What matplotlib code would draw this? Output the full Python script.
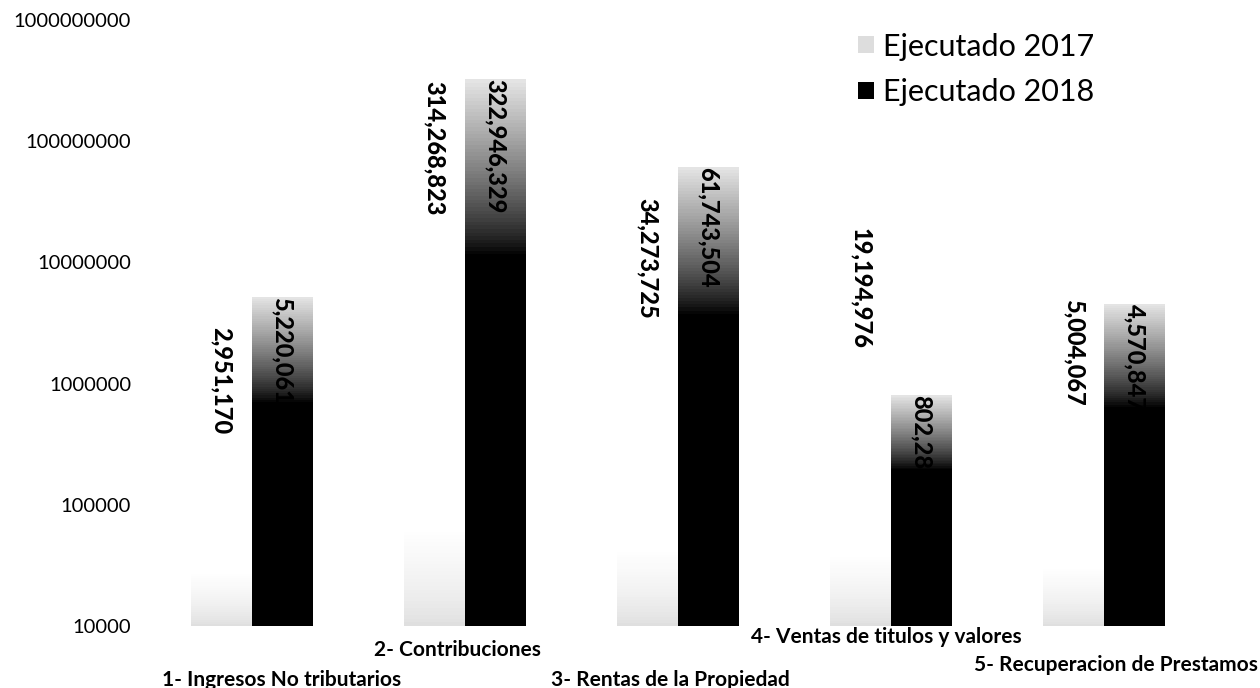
import numpy as np
import matplotlib.pyplot as plt
from matplotlib.patches import Patch
from matplotlib.transforms import blended_transform_factory, offset_copy

categorias = ['1- Ingresos No tributarios', '2- Contribuciones', '3- Rentas de la Propiedad',
              '4- Ventas de titulos y valores', '5- Recuperacion de Prestamos']
ejecutado_2017 = [2951170, 314268823, 34273725, 19194976, 5004067]
ejecutado_2018 = [5220061, 322946329, 61743504, 802287, 4570847]
ticks_y = [10000, 100000, 1000000, 10000000, 100000000, 1000000000]

# desplazamiento de cada etiqueta de categoria (pixeles x, pixeles bajo el eje)
desp_x = [30, -7, -8, -5, 12]
desp_y = [54, 24, 54, 11, 39]

plt.rcParams['font.family'] = ['Lato', 'DejaVu Sans']

fig = plt.figure(figsize=(12.6, 6.88), dpi=100)
ax = fig.add_axes([145 / 1260, 62 / 688, 1115 / 1260, 606 / 688])
ax.set_yscale('log')
ax.set_ylim(1e4, 1e9)
ax.set_xlim(-0.5, 4.73)

x = np.arange(len(categorias))
ancho = 0.286
base = 1e4
n = 150


def barra_degradada(xc, valor, gris):
    # divide la barra en tramos (escala log) y colorea cada uno
    bordes = np.logspace(np.log10(base), np.log10(valor), n + 1)
    for i in range(n):
        f = (i + 0.5) / n
        g = gris(f)
        ax.bar(xc, bordes[i + 1] - bordes[i], bottom=bordes[i], width=ancho,
               color=(g, g, g), linewidth=0, zorder=2)


for i in range(len(categorias)):
    barra_degradada(x[i] - ancho / 2, ejecutado_2017[i],
                    lambda f: min(1.0, 0.86 + 0.14 * (f / 0.18) ** 0.6))
    barra_degradada(x[i] + ancho / 2, ejecutado_2018[i],
                    lambda f: 0.0 if f < 0.68 else min(0.9, 0.9 * ((f - 0.68) / 0.32) ** 0.8))

for i in range(len(categorias)):
    for xc, v in [(x[i] - ancho / 2, ejecutado_2017[i]), (x[i] + ancho / 2, ejecutado_2018[i])]:
        ax.text(xc, v, f'{v:,}', rotation=270, ha='center', va='top',
                fontsize=17, fontweight='black', color='black', zorder=5)

ax.set_yticks(ticks_y)
ax.set_yticklabels([str(t) for t in ticks_y])
ax.minorticks_off()
ax.tick_params(axis='y', length=0, pad=10, labelsize=14.5)
ax.set_xticks([])
for s in ax.spines.values():
    s.set_visible(False)

tr = blended_transform_factory(ax.transData, ax.transAxes)
for i, cat in enumerate(categorias):
    t = offset_copy(tr, fig=fig, x=desp_x[i], y=-desp_y[i], units='dots')
    ax.text(x[i], 0, cat, transform=t, ha='center', va='center',
            fontsize=15, fontweight='bold', clip_on=False)

manejadores = [Patch(facecolor='#dddddd', edgecolor='none'),
               Patch(facecolor='black', edgecolor='none')]
fig.legend(manejadores, ['Ejecutado 2017', 'Ejecutado 2018'], loc='upper left',
           bbox_to_anchor=(830 / 1260, 1 - 5 / 688), frameon=False, fontsize=22,
           handlelength=0.55, handleheight=0.5, handletextpad=0.3, labelspacing=0.58)

fig.savefig('out.png', dpi=100)
